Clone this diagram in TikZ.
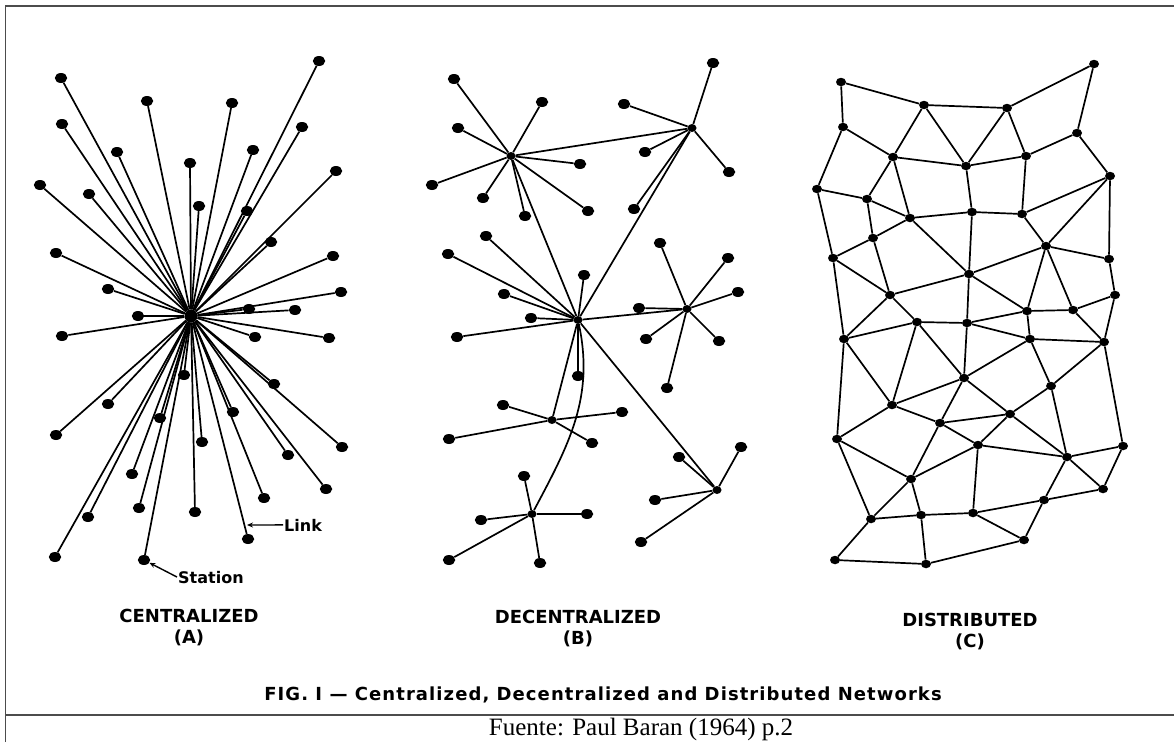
\documentclass[tikz,border=0pt]{standalone}
\usepackage{fontspec}
\setmainfont{Liberation Serif}
\newfontfamily\lettering{DejaVu Sans}
\newfontfamily\spacedlettering{DejaVu Sans}[LetterSpace=6]
\usetikzlibrary{shapes.geometric, arrows.meta, positioning}

\begin{document}
\begin{tikzpicture}[
    x=1pt, y=-1pt,
    station/.style={ellipse, fill=black, inner sep=0pt, minimum width=12.5pt, minimum height=10pt},
    hub/.style={ellipse, fill=black, inner sep=0pt, minimum width=9pt, minimum height=8pt},
    relay/.style={ellipse, fill=black, inner sep=0pt, minimum width=10pt, minimum height=8.5pt},
    link/.style={line width=1.7pt},
    pointer/.style={line width=1.4pt, -{Stealth[length=6pt, width=5pt]}},
    tag/.style={font=\lettering\bfseries\fontsize{16}{19}\selectfont, anchor=base west, inner sep=1pt},
    netname/.style={font=\lettering\bfseries\fontsize{18}{21}\selectfont, align=center, inner sep=0pt},
    frame/.style={draw=black!70, line width=1.5pt}
]
\useasboundingbox (0,0) rectangle (1174,742);

% Frame
\draw[frame] (5.5,742) -- (5.5,6) -- (1174,6);
\draw[frame] (5.5,715) -- (1174,715);

% (A) centralized
\node[hub, minimum width=13pt, minimum height=13pt] (ha) at (191,316) {};
\foreach \n/\x/\y in {1/61/78, 2/319/61, 3/147/101, 4/232/103, 5/62/124, 6/302/127,
    7/117/152, 8/253/150, 9/190/163, 10/336/171, 11/40/185, 12/89/194, 13/199/206,
    14/247/211, 15/271/242, 16/56/253, 17/333/256, 18/108/289, 19/341/292, 20/249/309,
    21/295/310, 22/138/316, 23/62/336, 24/255/337, 25/329/338, 26/184/375, 27/274/384,
    28/108/404, 29/160/418, 30/233/412, 31/56/435, 32/202/442, 33/342/447, 34/288/455,
    35/132/474, 36/326/489, 37/139/508, 38/264/498, 39/195/512, 40/88/517, 41/248/539,
    42/55/557, 43/144/560}
{
    \node[station] (a\n) at (\x,\y) {};
    \draw[link] (ha) -- (a\n);
}

% Link and Station labels
\coordinate (linkpt) at (247,525);
\node[tag] (linklbl) at (283,531) {Link};
\draw[pointer] (linklbl.west) -- (linkpt);
\node[tag] (stationlbl) at (177,583) {Station};
\draw[pointer] (stationlbl.west) -- (a43);

\node[netname] (namea) at (189,627) {CENTRALIZED\\(A)};

% (B) decentralized
\node[hub] (hb1) at (511,156) {};
\node[hub] (hb2) at (692,128) {};
\node[hub] (hb3) at (578,320) {};
\node[hub] (hb4) at (687,309) {};
\node[hub] (hb5) at (552,420) {};
\node[hub] (hb6) at (532,514) {};
\node[hub] (hb7) at (717,490) {};
\draw[link] (hb1) -- (hb2);
\draw[link] (hb1) -- (hb3);
\draw[link] (hb2) -- (hb3);
\draw[link] (hb3) -- (hb4);
\draw[link] (hb3) -- (hb5);
\draw[link] (hb3) -- (hb7);
\draw[link] (hb3) to[out=-78, in=62] (hb6);
\foreach \n/\x/\y/\h in {1/454/79/1, 2/542/102/1, 3/458/128/1, 4/580/164/1, 5/432/185/1,
    6/483/198/1, 7/525/216/1, 8/588/211/1,
    9/713/63/2, 10/624/104/2, 11/645/152/2, 12/729/172/2, 13/634/209/2,
    14/486/236/3, 15/448/254/3, 16/584/275/3, 17/504/294/3, 18/531/318/3, 19/457/337/3,
    20/578/376/3,
    21/660/243/4, 22/728/258/4, 23/738/292/4, 24/639/308/4, 25/646/339/4, 26/719/341/4,
    27/667/388/4,
    28/503/405/5, 29/622/412/5, 30/449/439/5, 31/592/443/5,
    32/524/476/6, 33/481/520/6, 34/587/514/6, 35/449/560/6, 36/540/563/6,
    37/679/457/7, 38/741/447/7, 39/655/500/7, 40/641/542/7}
{
    \node[station] (b\n) at (\x,\y) {};
    \draw[link] (hb\h) -- (b\n);
}

\node[netname] (nameb) at (578,628) {DECENTRALIZED\\(B)};

% (C) distributed
\foreach \n/\x/\y in {1/841/82, 2/924/105, 3/1007/108, 4/1094/64, 5/843/127, 6/893/157,
    7/966/166, 8/1026/156, 9/1077/133, 10/817/189, 11/867/199, 12/910/218, 13/972/212,
    14/1022/214, 15/1110/176, 16/873/238, 17/833/258, 18/1046/246, 19/1109/259,
    20/969/274, 21/890/295, 22/1115/295, 23/1027/311, 24/1073/310, 25/917/322,
    26/967/323, 27/844/339, 28/1030/339, 29/1104/342, 30/964/378, 31/1051/386,
    32/892/405, 33/1010/414, 34/940/423, 35/837/439, 36/978/445, 37/1123/446,
    38/1067/457, 39/911/479, 40/1103/489, 41/1044/500, 42/871/519, 43/921/515,
    44/973/513, 45/1024/540, 46/835/560, 47/926/564}
    \node[relay] (c\n) at (\x,\y) {};
\foreach \p/\q in {1/2, 1/5, 2/3, 3/4, 4/9, 2/6, 2/7, 3/7, 3/8, 5/6, 5/10, 6/7, 7/8, 8/9,
    9/15, 6/11, 6/12, 7/13, 8/14, 10/11, 10/17, 11/12, 11/16, 12/13, 13/14, 14/15, 15/18,
    15/19, 14/18, 12/16, 16/17, 16/21, 12/20, 13/20, 17/21, 17/27, 20/18, 18/19, 18/23,
    18/24, 19/22, 20/21, 20/26, 20/23, 21/25, 21/27, 23/24, 24/22, 22/29, 23/28, 23/26,
    24/29, 25/26, 25/27, 26/28, 25/30, 26/30, 28/30, 28/29, 28/31, 29/31, 29/37, 27/32,
    27/35, 25/32, 30/32, 30/34, 30/33, 31/33, 31/38, 33/34, 33/36, 33/38, 32/34, 32/35,
    34/36, 34/39, 35/39, 35/42, 36/39, 36/38, 36/44, 37/38, 37/40, 38/40, 38/41, 39/42,
    39/43, 42/43, 42/46, 43/44, 43/47, 44/41, 44/45, 41/45, 41/40, 46/47, 47/45}
    \draw[link] (c\p) -- (c\q);

\node[netname] (namec) at (970,631) {DISTRIBUTED\\(C)};

% Captions
\node[font=\spacedlettering\bfseries\fontsize{18}{21}\selectfont, inner sep=0pt, anchor=base] (caption) at (603,700)
    {FIG. I — Centralized, Decentralized and Distributed Networks};
\node[font=\fontsize{25}{27}\selectfont, inner sep=0pt, anchor=base] (source) at (641,735)
    {Fuente: Paul Baran (1964) p.2};
\end{tikzpicture}
\end{document}
